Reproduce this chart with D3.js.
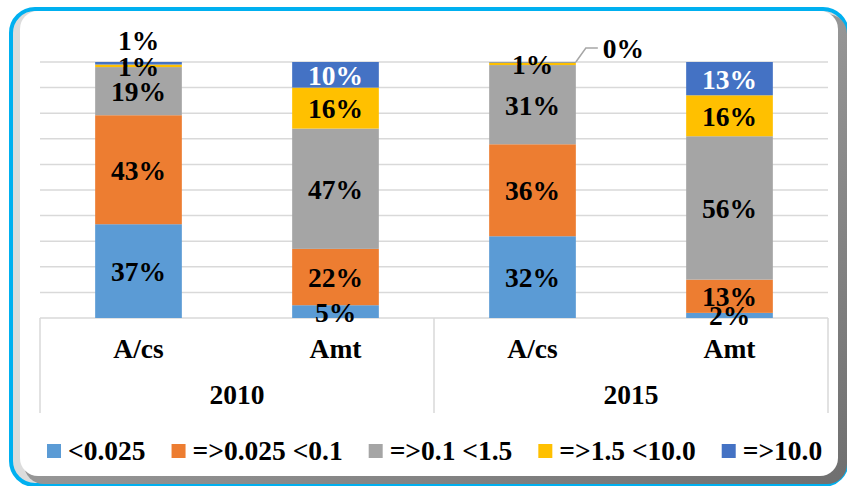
<!DOCTYPE html>
<html>
<head>
<meta charset="utf-8">
<script src="https://cdn.jsdelivr.net/npm/d3@7"></script>
<style>
  body { margin: 0; background: #fff; }
</style>
</head>
<body>
<div id="chart"></div>
<script>
const SVG_WIDTH = 847;
const SVG_HEIGHT = 486;
const MARGIN = { top: 62, right: 19, bottom: 168, left: 40 };
const FONT = "'Liberation Serif', 'DejaVu Serif', 'Times New Roman', serif";
const FONT_SIZE = 27.5;

const years = ["2010", "2015"];
const kinds = ["A/cs", "Amt"];
const seriesNames = ["<0.025", "=>0.025 <0.1", "=>0.1 <1.5", "=>1.5 <10.0", "=>10.0"];
const seriesColors = ["#5B9BD5", "#ED7D31", "#A5A5A5", "#FFC000", "#4472C4"];

// values per bar: 2010 A/cs, 2010 Amt, 2015 A/cs, 2015 Amt
const below0025 = [37, 5, 32, 2];
const from0025 = [43, 22, 36, 13];
const from01 = [19, 47, 31, 56];
const from15 = [1, 16, 1, 16];
const above10 = [1, 10, 0.2, 13];

const bars = [];
years.forEach(y => kinds.forEach(k => bars.push({ year: y, kind: k })));
const seriesValues = [below0025, from0025, from01, from15, above10];
bars.forEach((b, i) => seriesValues.forEach((vals, s) => { b["s" + s] = vals[i]; }));

const svg = d3.select("#chart").append("svg")
    .attr("width", SVG_WIDTH)
    .attr("height", SVG_HEIGHT)
    .attr("font-family", FONT)
    .attr("font-weight", "bold");

// frame
const defs = svg.append("defs");
const grad = defs.append("linearGradient").attr("id", "shade").attr("x1", 0).attr("y1", 0).attr("x2", 1).attr("y2", 1);
grad.append("stop").attr("offset", "0%").attr("stop-color", "#bdbdbd");
grad.append("stop").attr("offset", "100%").attr("stop-color", "#6f6f6f");

svg.append("rect")
    .attr("x", 11).attr("y", 9).attr("width", 836).attr("height", 476).attr("rx", 24)
    .attr("fill", "#dcdcdc").attr("stroke", "#00B0F0").attr("stroke-width", 4);
svg.append("rect")
    .attr("x", 24).attr("y", 14).attr("width", 823).attr("height", 470).attr("rx", 20)
    .attr("fill", "url(#shade)");
svg.append("rect")
    .attr("x", 20).attr("y", 11).attr("width", 818).attr("height", 465).attr("rx", 18)
    .attr("fill", "#fff");

const x = d3.scaleBand()
    .domain(d3.range(bars.length))
    .range([MARGIN.left, SVG_WIDTH - MARGIN.right])
    .paddingInner(0.56).paddingOuter(0.28);
const step = x.step();

const y = d3.scaleLinear()
    .domain([0, 1])
    .range([SVG_HEIGHT - MARGIN.bottom, MARGIN.top]);

// gridlines
svg.append("g")
    .selectAll("line")
    .data(d3.range(0.1, 1.01, 0.1))
    .join("line")
    .attr("x1", MARGIN.left).attr("x2", SVG_WIDTH - MARGIN.right)
    .attr("y1", d => y(d)).attr("y2", d => y(d))
    .attr("stroke", "#d9d9d9").attr("stroke-width", 1.5);

// category axis (two levels)
const axisY = y(0);
const axis = svg.append("g");
axis.append("line")
    .attr("x1", MARGIN.left).attr("x2", SVG_WIDTH - MARGIN.right)
    .attr("y1", axisY).attr("y2", axisY)
    .attr("stroke", "#d9d9d9").attr("stroke-width", 1.5);
axis.selectAll(".div")
    .data(d3.range(years.length + 1))
    .join("line")
    .attr("x1", d => MARGIN.left + d * step * kinds.length)
    .attr("x2", d => MARGIN.left + d * step * kinds.length)
    .attr("y1", axisY).attr("y2", axisY + 95)
    .attr("stroke", "#d9d9d9").attr("stroke-width", 1.5);
axis.selectAll(".kind")
    .data(bars)
    .join("text")
    .attr("x", (d, i) => x(i) + x.bandwidth() / 2)
    .attr("y", axisY + 40)
    .attr("text-anchor", "middle")
    .attr("font-size", FONT_SIZE)
    .text(d => d.kind);
axis.selectAll(".year")
    .data(years)
    .join("text")
    .attr("x", (d, i) => MARGIN.left + (i + 0.5) * step * kinds.length)
    .attr("y", axisY + 86)
    .attr("text-anchor", "middle")
    .attr("font-size", FONT_SIZE)
    .text(d => d);

// stacked bars (100%)
const stack = d3.stack()
    .keys(seriesNames.map((n, s) => "s" + s))
    .offset(d3.stackOffsetExpand);
const layers = stack(bars);

const layerG = svg.append("g")
    .selectAll("g")
    .data(layers)
    .join("g")
    .attr("fill", (d, s) => seriesColors[s]);

layerG.selectAll("rect")
    .data(d => d)
    .join("rect")
    .attr("x", (d, i) => x(i))
    .attr("width", x.bandwidth())
    .attr("y", d => y(d[1]))
    .attr("height", d => y(d[0]) - y(d[1]));

// data labels
const labels = svg.append("g").attr("font-size", FONT_SIZE).attr("text-anchor", "middle");
layers.forEach((layer, s) => {
    layer.forEach((d, i) => {
        const v = seriesValues[s][i];
        const cx = x(i) + x.bandwidth() / 2;
        let cy = (y(d[0]) + y(d[1])) / 2;
        let lx = cx;
        let anchor = "middle";
        if (s === 4 && i === 0) cy = y(1) - 22;
        if (s === 4 && i === 2) {
            // label pulled out with a leader line
            const x0 = x(i) + x.bandwidth();
            svg.append("polyline")
                .attr("points", [[x0, y(1)], [x0 + 10, y(1) - 14], [x0 + 22, y(1) - 14]].join(" "))
                .attr("fill", "none").attr("stroke", "#a6a6a6").attr("stroke-width", 1.5);
            lx = x0 + 27;
            cy = y(1) - 14;
            anchor = "start";
        }
        labels.append("text")
            .attr("x", lx)
            .attr("y", cy)
            .attr("dy", "0.36em")
            .attr("text-anchor", anchor)
            .attr("fill", s === 4 && v >= 5 ? "#fff" : "#000")
            .text(Math.round(v) + "%");
    });
});

// legend
const legend = svg.append("g").attr("transform", "translate(47,444)");
let lxPos = 0;
seriesNames.forEach((name, s) => {
    legend.append("rect")
        .attr("x", lxPos).attr("y", 0)
        .attr("width", 14).attr("height", 14)
        .attr("fill", seriesColors[s]);
    const t = legend.append("text")
        .attr("x", lxPos + 21).attr("y", 16)
        .attr("font-size", FONT_SIZE)
        .text(name);
    lxPos += 21 + t.node().getComputedTextLength() + 26;
});
</script>
</body>
</html>
